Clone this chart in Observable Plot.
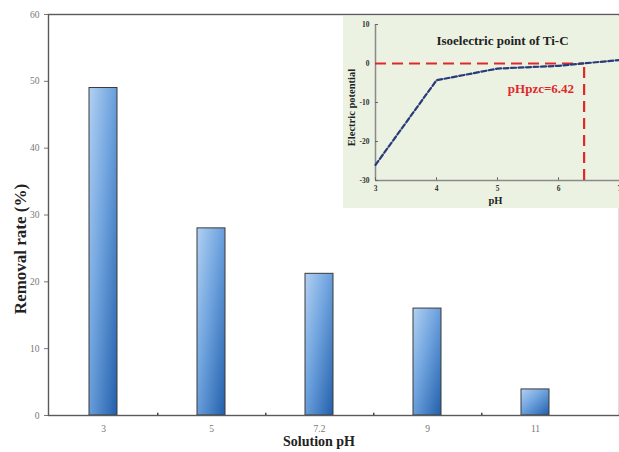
<!DOCTYPE html>
<html>
<head>
<meta charset="utf-8">
<script src="https://cdn.jsdelivr.net/npm/d3@7"></script>
<script src="https://cdn.jsdelivr.net/npm/@observablehq/plot@0.6"></script>
<style>
  html, body { margin: 0; padding: 0; background: #fff; }
  #wrap { position: relative; width: 619px; height: 452px; overflow: hidden; }
  #wrap svg { display: block; }
  #inset { position: absolute; left: 343px; top: 16px; }
</style>
</head>
<body>
<div id="wrap"></div>
<script>
// ---- Main chart data ----
const categories = ["3", "5", "7.2", "9", "11"];
const removalRate = [49.0, 28.0, 21.2, 16.0, 3.9];
const yTicks = [0, 10, 20, 30, 40, 50, 60];

// ---- Inset data ----
const insetPH = [3, 4, 5, 6, 7];
const insetPotential = [-26, -4.3, -1.3, -0.6, 0.9];
const insetYTicks = [-30, -20, -10, 0, 10];
const pHpzc = 6.42;

const bars = categories.map((c, i) => ({pH: c, rate: removalRate[i]}));
const curve = insetPH.map((p, i) => ({pH: p, v: insetPotential[i]}));

const serif = "'Liberation Serif', 'Times New Roman', serif";
const step = (590.5 - 48) / 5;

const main = Plot.plot({
  width: 619, height: 452,
  marginLeft: 48, marginRight: 0, marginTop: 14, marginBottom: 37,
  style: {fontFamily: serif, background: "white", overflow: "visible"},
  x: {type: "band", domain: categories, range: [48, 590.5], paddingInner: 0.74, paddingOuter: 0.37, axis: null},
  y: {domain: [0, 60], axis: null},
  marks: [
    Plot.barY(bars, {x: "pH", y: "rate", fill: "url(#barGrad)", stroke: "#3a3a3a", strokeWidth: 1}),
    Plot.axisY(yTicks, {tickSize: 4, tickPadding: 5, fontSize: 9.5, color: "#777", label: null}),
    Plot.axisX({tickSize: 0, tickPadding: 10, fontSize: 9.5, color: "#777", label: null}),
    Plot.ruleX(categories.slice(0, 4), {x: d => d, dx: step / 2, y1: 0, y2: 0.35, stroke: "#444", strokeWidth: 1.5}),
    Plot.frame({stroke: "#5a5a5a", strokeWidth: 1.4}),
    Plot.text(["Removal rate (%)"], {frameAnchor: "left", textAnchor: "middle", rotate: -90, dx: -28, dy: 34, fontWeight: "bold", fontSize: 17, fill: "#222"}),
    Plot.text(["Solution pH"], {frameAnchor: "bottom", dx: -15, dy: 30, fontWeight: "bold", fontSize: 14, fill: "#222"})
  ]
});

// gradient definition for bars
const defs = d3.select(main).insert("defs", ":first-child");
const g = defs.append("linearGradient").attr("id", "barGrad")
  .attr("x1", 0).attr("y1", 0).attr("x2", 1).attr("y2", 1);
g.append("stop").attr("offset", "0%").attr("stop-color", "#b2d1f2");
g.append("stop").attr("offset", "45%").attr("stop-color", "#6fa3de");
g.append("stop").attr("offset", "100%").attr("stop-color", "#225fab");

const inset = Plot.plot({
  width: 276, height: 192,
  marginLeft: 32, marginRight: 0, marginTop: 8, marginBottom: 28,
  style: {fontFamily: serif, background: "#ecf2e2"},
  x: {domain: [3, 7], axis: null},
  y: {domain: [-30, 10], axis: null},
  marks: [
    Plot.ruleY([-30], {stroke: "#8a8a8a", strokeWidth: 1.5}),
    Plot.ruleX([3], {stroke: "#8a8a8a", strokeWidth: 1.5}),
    Plot.ruleX(insetPH, {x: d => d, y1: -30, y2: -29.3, stroke: "#666", strokeWidth: 1}),
    Plot.ruleY(insetYTicks, {y: d => d, x1: 3, x2: 3.05, stroke: "#666", strokeWidth: 1}),
    Plot.axisX(insetPH, {tickSize: 0, tickPadding: 5, fontSize: 7.5, fontWeight: "bold", color: "#333", label: null}),
    Plot.axisY(insetYTicks, {tickSize: 0, tickPadding: 6, fontSize: 7.5, fontWeight: "bold", color: "#333", label: null, tickFormat: d => String(d)}),
    Plot.ruleY([0], {x1: 3, x2: pHpzc, stroke: "#e0282c", strokeWidth: 2.2, strokeDasharray: "11,6"}),
    Plot.ruleX([pHpzc], {y1: -30, y2: 0, stroke: "#e0282c", strokeWidth: 2.2, strokeDasharray: "11,6"}),
    Plot.line(curve, {x: "pH", y: "v", stroke: "#2a3b7c", strokeWidth: 2.2, strokeDasharray: "5,2.5"}),
    Plot.text(["Isoelectric point of Ti-C"], {frameAnchor: "top", dx: 5, dy: 11, fontWeight: "bold", fontSize: 13, fill: "#222"}),
    Plot.text(["pHpzc=6.42"], {x: pHpzc, y: -6.4, textAnchor: "end", dx: -10, fontWeight: "bold", fontSize: 13, fill: "#e0282c"}),
    Plot.text(["pH"], {frameAnchor: "bottom", dx: -2, dy: 23, fontWeight: "bold", fontSize: 10.5, fill: "#222"}),
    Plot.text(["Electric potential"], {frameAnchor: "left", textAnchor: "middle", rotate: -90, dx: -24, dy: 5, fontWeight: "bold", fontSize: 10.5, fill: "#222"})
  ]
});
inset.id = "inset";

const wrap = document.getElementById("wrap");
wrap.appendChild(main);
wrap.appendChild(inset);
</script>
</body>
</html>
